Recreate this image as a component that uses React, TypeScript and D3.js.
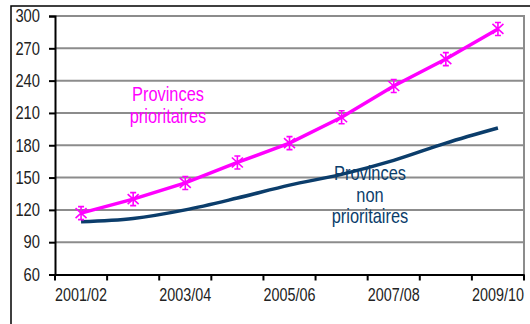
import {useEffect, useRef} from 'react';
import * as d3 from 'd3';

// data
const years = ['2001/02', '2002/03', '2003/04', '2004/05', '2005/06', '2006/07', '2007/08', '2008/09', '2009/10'];
const prioritaires = [117, 130, 145, 164, 182, 206, 235, 260, 288];
const nonPrioritaires = [109, 112, 120, 131, 143, 153, 166, 182, 196];
const yTicks = [60, 90, 120, 150, 180, 210, 240, 270, 300];
const shownLabels = ['2001/02', '2003/04', '2005/06', '2007/08', '2009/10'];

// parameters
const width = 530;
const height = 324;
const plotLeft = 55;
const plotRight = 524;
const plotTop = 16;
const plotBottom = 274.5;
const pink = '#ff00ff';
const navy = '#0b3d6b';
const font = "'Liberation Sans', Arial, sans-serif";
const narrow = 0.82; // imitate Arial Narrow

// squeeze a text horizontally around its anchor x
const condense = (sel: d3.Selection<any, any, any, any>, ax: number) =>
  sel.attr('transform', `translate(${ax},0) scale(${narrow},1) translate(${-ax},0)`);

export default function App() {
  const ref = useRef<SVGSVGElement>(null);
  useEffect(() => {
    if (!ref.current)
      return;
    const svg = d3.select(ref.current);
    svg.selectAll('*').remove();

    const x = d3.scaleBand<string>().domain(years).range([plotLeft, plotRight]);
    const y = d3.scaleLinear().domain([60, 300]).range([plotBottom, plotTop]);
    const cx = (d: string) => (x(d) as number) + x.bandwidth() / 2;

    // outer frame (only left and top visible)
    svg.append('path')
      .attr('d', `M11,${height} L11,6 L${width},6`)
      .attr('fill', 'none')
      .attr('stroke', '#000')
      .attr('stroke-width', 1.5);

    // gridlines
    svg.append('g')
      .selectAll('line')
      .data(yTicks.filter(t => t > 60))
      .enter()
      .append('line')
      .attr('x1', plotLeft)
      .attr('x2', plotRight)
      .attr('y1', d => y(d))
      .attr('y2', d => y(d))
      .attr('stroke', '#8c8c8c')
      .attr('stroke-width', 2);

    // right border of plot
    svg.append('line')
      .attr('x1', plotRight).attr('x2', plotRight)
      .attr('y1', plotTop - 1).attr('y2', plotBottom)
      .attr('stroke', '#8c8c8c')
      .attr('stroke-width', 2);

    // y axis
    const yAxis = svg.append('g')
      .attr('transform', `translate(${plotLeft},0)`)
      .call(d3.axisLeft(y).tickValues(yTicks).tickSize(6).tickPadding(9));
    yAxis.select('.domain').attr('stroke', '#000').attr('stroke-width', 2);
    yAxis.selectAll('.tick line').attr('stroke', '#000').attr('stroke-width', 2);
    const yText = yAxis.selectAll('.tick text')
      .attr('fill', '#222')
      .style('font-family', font)
      .style('font-size', '18px');
    condense(yText, -15);

    // x axis
    const xAxis = svg.append('g')
      .attr('transform', `translate(0,${plotBottom})`)
      .call(d3.axisBottom(x).tickSize(0).tickPadding(14)
        .tickFormat(d => shownLabels.includes(d) ? d : ''));
    xAxis.select('.domain').attr('stroke', '#000').attr('stroke-width', 2);
    const xText = xAxis.selectAll<SVGTextElement, string>('.tick text')
      .attr('fill', '#222')
      .style('font-family', font)
      .style('font-size', '17.5px');
    condense(xText, 0);
    xAxis.selectAll('line.sep')
      .data([...years.map(d => x(d) as number), plotRight])
      .enter()
      .append('line')
      .attr('x1', d => d).attr('x2', d => d)
      .attr('y1', 0).attr('y2', 6)
      .attr('stroke', '#000')
      .attr('stroke-width', 2);

    // non prioritaires line (smooth)
    const line = d3.line<number>()
      .x((_, i) => cx(years[i]))
      .y(d => y(d));
    svg.append('path')
      .attr('d', line.curve(d3.curveMonotoneX)(nonPrioritaires))
      .attr('fill', 'none')
      .attr('stroke', navy)
      .attr('stroke-width', 3.5);

    // prioritaires line
    svg.append('path')
      .attr('d', line.curve(d3.curveLinear)(prioritaires))
      .attr('fill', 'none')
      .attr('stroke', pink)
      .attr('stroke-width', 3.5);

    // star markers
    const markers = svg.append('g')
      .selectAll('g')
      .data(prioritaires)
      .enter()
      .append('g')
      .attr('transform', (d, i) => `translate(${cx(years[i])},${y(d)})`);
    markers.append('path')
      .attr('d', 'M0,-6.5 L0,6.5 M-5.5,-5 L5.5,5 M-5.5,5 L5.5,-5 M-3,-6.5 L3,-6.5 M-3,6.5 L3,6.5')
      .attr('stroke', pink)
      .attr('stroke-width', 1.6)
      .attr('fill', 'none');

    // annotations
    const annotate = (lines: string[], cxPos: number, baseY: number, color: string) => {
      const text = svg.append('text')
        .attr('text-anchor', 'middle')
        .attr('fill', color)
        .style('font-family', font)
        .style('font-size', '20px');
      text.selectAll('tspan')
        .data(lines)
        .enter()
        .append('tspan')
        .attr('x', cxPos)
        .attr('y', (d, i) => baseY + i * 21.3)
        .text(d => d);
      condense(text, cxPos);
    };
    annotate(['Provinces', 'prioritaires'], 168, 101.5, pink);
    annotate(['Provinces', 'non', 'prioritaires'], 370, 180.5, navy);
  }, []);
  return <svg
    ref={ref}
    width={width}
    height={height}
    style={{position: 'absolute', left: 0, top: 0, background: '#fff'}}
  />;
}
